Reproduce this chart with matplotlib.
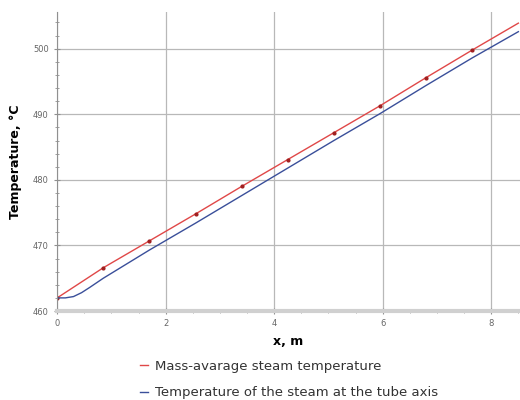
import numpy as np
import matplotlib
matplotlib.use('Agg')
from matplotlib import pyplot as plt
from matplotlib.ticker import MultipleLocator

# mass-average steam temperature (points with markers)
x_mass = [0.0, 0.85, 1.7, 2.55, 3.4, 4.25, 5.1, 5.95, 6.8, 7.65, 8.5]
t_mass = [462.0, 466.6, 470.7, 474.8, 479.0, 483.1, 487.2, 491.3, 495.6, 499.8, 503.9]

# steam temperature at the tube axis
x_axis = [0.0, 0.15, 0.3, 0.45, 0.6, 0.85, 1.7, 2.55, 3.4, 4.25, 5.1, 5.95, 6.8, 7.65, 8.5]
t_axis = [462.0, 462.0, 462.2, 462.8, 463.6, 465.0, 469.3, 473.4, 477.6, 481.8, 486.0, 490.1, 494.4, 498.6, 502.6]

labels = ['Mass-avarage steam temperature', 'Temperature of the steam at the tube axis']

fig = plt.figure(figsize=(5.2, 4.0), dpi=100)
ax = fig.add_axes([0.11, 0.2225, 0.89, 0.7475])

ax.plot(x_mass, t_mass, color='#e04848', lw=1.0, marker='o', ms=2,
        mfc='#a02020', mec='#a02020', markevery=slice(0, 10), label=labels[0])
ax.plot(x_axis, t_axis, color='#3a4f9a', lw=1.0, label=labels[1])

ax.set_xlim(0, 8.53)
ax.set_ylim(460, 505.6)
ax.xaxis.set_major_locator(MultipleLocator(2))
ax.xaxis.set_minor_locator(MultipleLocator(0.5))
ax.yaxis.set_major_locator(MultipleLocator(10))
ax.yaxis.set_minor_locator(MultipleLocator(2))
ax.grid(True, which='major', color='#b8b8b8', lw=0.9)

for s in ['top', 'right']:
    ax.spines[s].set_visible(False)
ax.spines['left'].set_color('#909090')
ax.spines['bottom'].set_color('#d0d0d0')
ax.spines['bottom'].set_linewidth(3)
ax.tick_params(which='both', colors='#909090', labelcolor='#666666', labelsize=6,
               direction='inout')
ax.tick_params(which='major', length=5)
ax.tick_params(which='minor', length=3)

ax.set_xlabel('x, m', fontsize=9, fontweight='bold', labelpad=5)
ax.set_ylabel('Temperature, °C', fontsize=9, fontweight='bold', labelpad=8)

fig.legend(loc='upper left', bbox_to_anchor=(0.27, 0.10), frameon=False,
           fontsize=9.5, handlelength=0.6, handletextpad=0.5, labelspacing=1.0,
           labelcolor='#333333', borderaxespad=0, borderpad=0)
leg = fig.legends[0]
for h in leg.legend_handles:
    h.set_marker('')

fig.savefig('out.png', dpi=100)
